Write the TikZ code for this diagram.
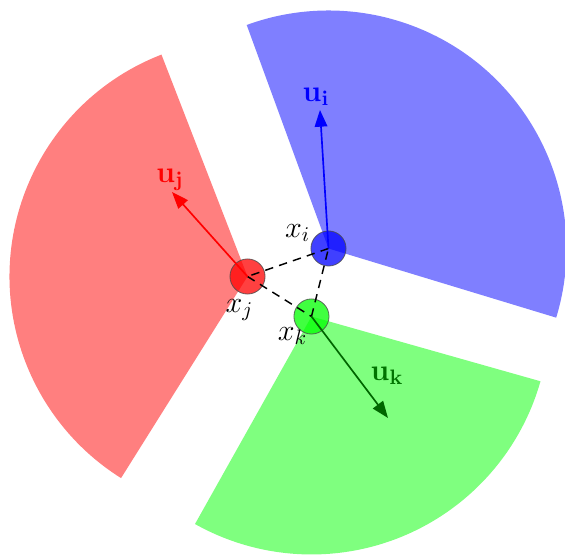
\documentclass[tikz,border=0pt]{standalone}
\usepackage{amsmath}
\usetikzlibrary{arrows.meta}

\begin{document}
\begin{tikzpicture}[thick]
	\tikzset{agente/.style={circle, draw=black!70, line width=0.4pt, fill opacity=0.75, draw opacity=0.8, minimum size=0.59cm, inner sep=0pt},
		settore/.style={opacity=0.5},
		vettore/.style={-{Triangle[length=8pt, width=6pt]}, line width=0.8pt},
		tratto/.style={dash pattern=on 4pt off 3pt, line width=0.7pt},
		etichetta/.style={font=\Large}}
	\useasboundingbox (-5.521,-5.151) rectangle (3.975,4.176);
	
	% Posizioni degli agenti
	\coordinate (pi) at (0, 0);
	\coordinate (pj) at (-1.361, -0.471);
	\coordinate (pk) at (-0.286, -1.143);
	
	% Settori di visibilita
	\fill[settore, blue] (pi) -- ++(-16.9:4) arc[start angle=-16.9, end angle=110.1, radius=4] -- cycle;
	\fill[settore, red] (pj) -- ++(111.2:4) arc[start angle=111.2, end angle=237.9, radius=4] -- cycle;
	\fill[settore, green] (pk) -- ++(240.7:4) arc[start angle=240.7, end angle=344.2, radius=4] -- cycle;
	
	% Agenti
	\node[agente, fill=blue] (xi) at (pi) {};
	\node[agente, fill=red] (xj) at (pj) {};
	\node[agente, fill=green] (xk) at (pk) {};
	
	\node[etichetta] (lxi) at (-0.52, 0.26) {$x_i$};
	\node[etichetta] (lxj) at (-1.496, -1.034) {$x_j$};
	\node[etichetta] (lxk) at (-0.605, -1.471) {$x_k$};
	
	% Collegamenti tratteggiati
	\draw[tratto] (xi.center) -- (xj.center);
	\draw[tratto] (xj.center) -- (xk.center);
	\draw[tratto] (xk.center) -- (xi.center);
	
	% Direzioni
	\coordinate (ui) at (-0.143, 2.328);
	\coordinate (uj) at (-2.630, 0.949);
	\coordinate (uk) at (1.000, -2.849);
	
	\draw[vettore, blue] (xi.center) -- (ui);
	\draw[vettore, red] (xj.center) -- (uj);
	\draw[vettore, green!40!black] (xk.center) -- (uk);
	
	\node[etichetta, blue] (lui) at (-0.21, 2.546) {$\mathbf{u_i}$};
	\node[etichetta, red] (luj) at (-2.664, 1.151) {$\mathbf{u_j}$};
	\node[etichetta, green!45!black] (luk) at (0.983, -2.143) {$\mathbf{u_k}$};
\end{tikzpicture}
\end{document}
